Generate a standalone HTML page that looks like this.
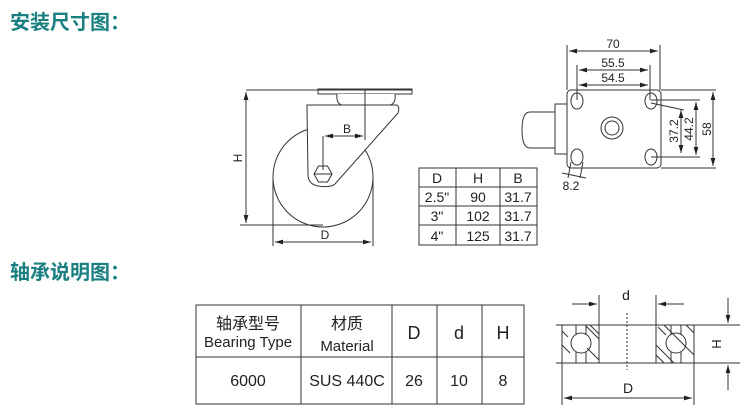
<!DOCTYPE html>
<html><head><meta charset="utf-8"><style>
html,body{margin:0;padding:0;background:#fff;}
svg{display:block;}
text{font-family:"Liberation Sans","Noto Sans CJK SC",sans-serif;fill:#222;}
.t{font-family:"Liberation Sans","Noto Sans CJK SC",sans-serif;font-weight:bold;fill:#1a7f80;font-size:20px;}
</style></head><body>
<svg width="756" height="415" viewBox="0 0 756 415" xmlns="http://www.w3.org/2000/svg">
<defs>
<marker id="a" viewBox="0 0 10 6" refX="10" refY="3" markerWidth="8" markerHeight="5" orient="auto-start-reverse"><path d="M0,0L10,3L0,6z" fill="#222"/></marker>
</defs>
<text class="t" x="10" y="29">安装尺寸图：</text>
<text class="t" x="10" y="279">轴承说明图：</text>

<g stroke="#333" stroke-width="1" fill="none">
<circle cx="323" cy="177" r="50"/>
<rect x="318" y="89" width="94" height="5" fill="#fff"/>
<path d="M337,94 Q336,104 342,105 L390,105 Q396,104 395,94" fill="#fff"/>
<path d="M307,108 L307,105 L397,105 Q400,107 398,113 L335,184 Q330,188 318,186 Q308,184 308,175 Z" fill="#fff"/>
<polygon points="314,174 318.5,166 327.5,166 332,174 327.5,182 318.5,182" fill="#fff"/>
<line x1="314" y1="174" x2="332" y2="174"/>
<line x1="246" y1="90" x2="412" y2="90"/>
<line x1="240" y1="225" x2="323" y2="225"/>
<line x1="246" y1="92" x2="246" y2="223" marker-start="url(#a)" marker-end="url(#a)"/>
<line x1="365" y1="90" x2="365" y2="140"/>
<line x1="323" y1="136" x2="323" y2="170"/>
<line x1="325" y1="136" x2="363" y2="136" marker-start="url(#a)" marker-end="url(#a)"/>
<line x1="273" y1="177" x2="273" y2="246"/>
<line x1="373" y1="177" x2="373" y2="246"/>
<line x1="275" y1="242" x2="371" y2="242" marker-start="url(#a)" marker-end="url(#a)"/>
<rect x="419" y="168" width="118" height="77"/>
<line x1="456" y1="168" x2="456" y2="245"/><line x1="500" y1="168" x2="500" y2="245"/>
<line x1="419" y1="187" x2="537" y2="187"/><line x1="419" y1="206" x2="537" y2="206"/><line x1="419" y1="225" x2="537" y2="225"/>
<path d="M555,112 L530,112 Q522,112 522,130 Q522,148 530,148 L555,148"/>
<rect x="555" y="104" width="12" height="50" fill="#fff"/>
<rect x="567" y="90" width="94" height="78" rx="4" fill="#fff"/>
<ellipse cx="577" cy="101" rx="6" ry="8"/>
<ellipse cx="651" cy="101" rx="6" ry="8"/>
<ellipse cx="577" cy="157" rx="6" ry="8"/>
<ellipse cx="651" cy="157" rx="6" ry="8"/>
<circle cx="612" cy="128" r="11"/><circle cx="612" cy="128" r="7"/>
<line x1="567" y1="45" x2="567" y2="90"/><line x1="660" y1="45" x2="660" y2="90"/>
<line x1="569" y1="51" x2="658" y2="51" marker-start="url(#a)" marker-end="url(#a)"/>
<line x1="577" y1="65" x2="577" y2="100"/><line x1="650" y1="65" x2="650" y2="100"/>
<line x1="579" y1="70" x2="648" y2="70" marker-start="url(#a)" marker-end="url(#a)"/>
<line x1="579" y1="85" x2="648" y2="85" marker-start="url(#a)" marker-end="url(#a)"/>
<line x1="661" y1="90" x2="716" y2="90"/><line x1="661" y1="168" x2="716" y2="168"/>
<line x1="713" y1="92" x2="713" y2="166" marker-start="url(#a)" marker-end="url(#a)"/>
<line x1="651" y1="100" x2="700" y2="100"/><line x1="651" y1="157" x2="700" y2="157"/>
<line x1="696" y1="102" x2="696" y2="155" marker-start="url(#a)" marker-end="url(#a)"/>
<line x1="651" y1="103" x2="684" y2="110"/>
<line x1="681" y1="110" x2="681" y2="153" marker-start="url(#a)" marker-end="url(#a)"/>
<line x1="571" y1="162" x2="568" y2="178"/><line x1="583" y1="162" x2="580" y2="178"/>
<line x1="562" y1="173" x2="586" y2="178"/>
<rect x="196" y="305" width="328" height="99"/>
<line x1="301" y1="305" x2="301" y2="404"/><line x1="392" y1="305" x2="392" y2="404"/>
<line x1="437" y1="305" x2="437" y2="404"/><line x1="482" y1="305" x2="482" y2="404"/>
<line x1="196" y1="357" x2="524" y2="357"/>
<line x1="556" y1="325" x2="740" y2="325"/><line x1="556" y1="363" x2="740" y2="363"/>
<line x1="562" y1="325" x2="562" y2="405"/><line x1="694" y1="325" x2="694" y2="405"/>
<line x1="599" y1="295" x2="599" y2="363"/><line x1="656" y1="295" x2="656" y2="363"/>
<line x1="572" y1="304" x2="597" y2="304" marker-end="url(#a)"/>
<line x1="684" y1="304" x2="658" y2="304" marker-end="url(#a)"/>
<line x1="564" y1="398" x2="692" y2="398" marker-start="url(#a)" marker-end="url(#a)"/>
<line x1="728" y1="298" x2="728" y2="323" marker-end="url(#a)"/>
<line x1="728" y1="390" x2="728" y2="365" marker-end="url(#a)"/>
<line x1="627" y1="313" x2="627" y2="370" stroke-dasharray="2,2"/>
<circle cx="581" cy="343" r="10"/><circle cx="676" cy="343" r="10"/>
<line x1="576" y1="325" x2="576" y2="334"/><line x1="586" y1="325" x2="586" y2="334"/>
<line x1="576" y1="352" x2="576" y2="363"/><line x1="586" y1="352" x2="586" y2="363"/>
<line x1="671" y1="325" x2="671" y2="334"/><line x1="681" y1="325" x2="681" y2="334"/>
<line x1="671" y1="352" x2="671" y2="363"/><line x1="681" y1="352" x2="681" y2="363"/>
<path d="M562,331 L568,337 M562,345 L570,353 M586,326 L599,339 M587,348 L599,360 M590,325 L599,334"/>
<path d="M656,345 L674,363 M656,355 L664,363 M664,325 L694,355 M686,325 L694,333 M658,327 L666,335"/>
</g>

<g font-size="12" text-anchor="middle">
<text x="347" y="133">B</text>
<text x="325" y="239">D</text>
<text x="242" y="158" transform="rotate(-90 242 158)">H</text>
<text x="613" y="48">70</text>
<text x="613" y="67">55.5</text>
<text x="613" y="82">54.5</text>
<text x="571" y="190">8.2</text>
<text x="711" y="129" transform="rotate(-90 711 129)">58</text>
<text x="693" y="129" transform="rotate(-90 693 129)">44.2</text>
<text x="678" y="131" transform="rotate(-90 678 131)">37.2</text>
</g>
<g font-size="14" text-anchor="middle">
<text x="437" y="183">D</text><text x="478" y="183">H</text><text x="518" y="183">B</text>
<text x="437" y="202">2.5"</text><text x="478" y="202">90</text><text x="518" y="202">31.7</text>
<text x="437" y="221">3"</text><text x="478" y="221">102</text><text x="518" y="221">31.7</text>
<text x="437" y="241">4"</text><text x="478" y="241">125</text><text x="518" y="241">31.7</text>
</g>
<g text-anchor="middle">
<text x="248" y="329" font-size="16">轴承型号</text>
<text x="248" y="347" font-size="15">Bearing Type</text>
<text x="347" y="329" font-size="16">材质</text>
<text x="347" y="351" font-size="15">Material</text>
<text x="414" y="339" font-size="18">D</text>
<text x="459" y="339" font-size="18">d</text>
<text x="503" y="339" font-size="18">H</text>
<text x="248" y="386" font-size="16">6000</text>
<text x="347" y="386" font-size="16">SUS 440C</text>
<text x="414" y="386" font-size="16">26</text>
<text x="459" y="386" font-size="16">10</text>
<text x="503" y="386" font-size="16">8</text>
<text x="626" y="300" font-size="14">d</text>
<text x="628" y="393" font-size="14">D</text>
<text x="721" y="344" font-size="13" transform="rotate(-90 721 344)">H</text>
</g>
</svg>
</body></html>
